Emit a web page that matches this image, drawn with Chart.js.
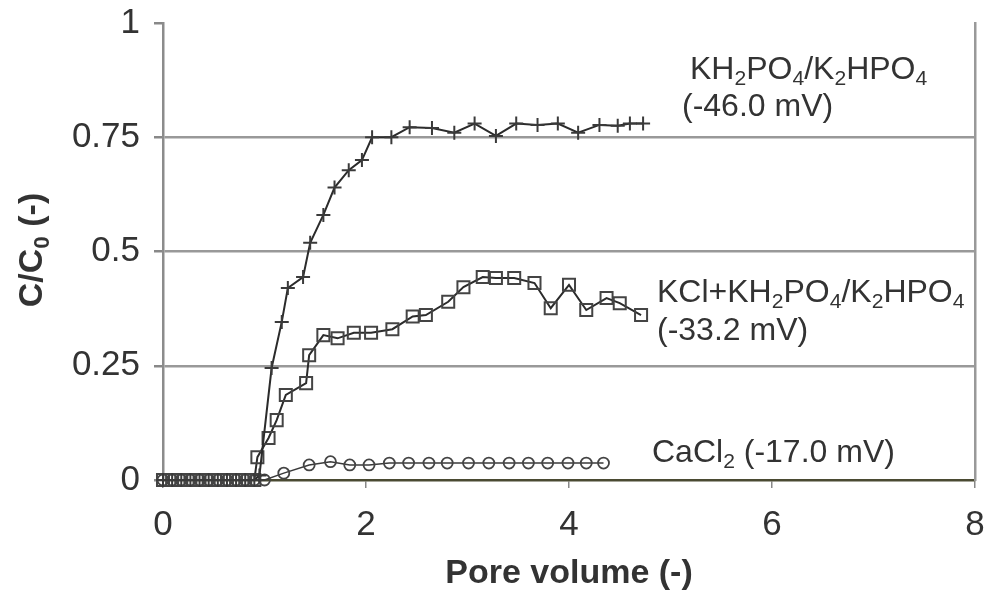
<!DOCTYPE html>
<html>
<head>
<meta charset="utf-8">
<script src="https://cdn.jsdelivr.net/npm/chart.js@4.4.1/dist/chart.umd.min.js"></script>
<style>
html,body{margin:0;padding:0;background:#fff}
#wrap{width:987px;height:596px}
</style>
</head>
<body>
<div id="wrap"><canvas id="grafica"></canvas></div>
<script>

// pore volume / C/C0
const fosfatoX = [0,0.09,0.18,0.27,0.36,0.45,0.54,0.63,0.72,0.81,0.9,0.95,1.07,1.17,1.23,1.38,1.45,1.58,1.69,1.83,1.96,2.06,2.25,2.43,2.65,2.87,3.07,3.28,3.48,3.69,3.89,4.09,4.30,4.48,4.60,4.73]
const fosfatoY = [0,0,0,0,0,0,0,0,0,0,0,0.01,0.245,0.346,0.42,0.444,0.519,0.58,0.64,0.678,0.70,0.75,0.75,0.772,0.77,0.76,0.78,0.753,0.78,0.777,0.78,0.76,0.777,0.775,0.78,0.78]

const kclX = [0,0.09,0.18,0.27,0.36,0.45,0.54,0.63,0.72,0.81,0.9,0.93,1.04,1.12,1.21,1.41,1.44,1.58,1.72,1.88,2.05,2.26,2.46,2.59,2.81,2.96,3.15,3.28,3.46,3.66,3.82,4.0,4.17,4.37,4.50,4.71]
const kclY = [0,0,0,0,0,0,0,0,0,0,0,0.05,0.092,0.131,0.186,0.212,0.273,0.317,0.31,0.322,0.322,0.33,0.358,0.361,0.39,0.422,0.444,0.442,0.442,0.431,0.376,0.427,0.372,0.398,0.387,0.361]

const cacl2X = [0,0.09,0.18,0.27,0.36,0.45,0.54,0.63,0.72,0.81,0.9,1.0,1.19,1.44,1.65,1.84,2.03,2.23,2.42,2.62,2.80,3.01,3.21,3.41,3.60,3.79,3.99,4.17,4.34]
const cacl2Y = [0,0,0,0,0,0,0,0,0,0,0,0,0.015,0.033,0.04,0.033,0.033,0.037,0.037,0.037,0.037,0.037,0.037,0.037,0.037,0.037,0.037,0.037,0.037]

const ticksX = [0,2,4,6,8]
const ticksY = [0,0.25,0.5,0.75,1]

const fuente = "'Liberation Sans', Arial, sans-serif"
const gris = "#333"

function puntos(xs,ys){
return xs.map((x,i)=>({x:x,y:ys[i]}))
}

// text with subscripts: parts = [[text, sub?], ...]
function textoRico(ctx,parts,x,y,size,bold,medir){
let px = x
parts.forEach(p=>{
const s = p[1] ? size*0.66 : size
ctx.font = (bold?"bold ":"") + s + "px " + fuente
if(!medir) ctx.fillText(p[0], px, p[1] ? y + size*0.28 : y)
px += ctx.measureText(p[0]).width
})
return px - x
}

const etiquetas = {
id:"etiquetas",
afterDraw(chart){
const ctx = chart.ctx
ctx.save()
ctx.fillStyle = gris
ctx.textBaseline = "middle"
ctx.textAlign = "left"

textoRico(ctx,[["KH"],["2",1],["PO"],["4",1],["/K"],["2",1],["HPO"],["4",1]],690,70,32)
textoRico(ctx,[["(-46.0 mV)"]],682,107,32)
textoRico(ctx,[["KCl+KH"],["2",1],["PO"],["4",1],["/K"],["2",1],["HPO"],["4",1]],657,293,32)
textoRico(ctx,[["(-33.2 mV)"]],657,331,32)
textoRico(ctx,[["CaCl"],["2",1],[" (-17.0 mV)"]],652,453,32)

// y title, rotated
ctx.translate(33,250)
ctx.rotate(-Math.PI/2)
const parts = [["C/C"],["0",1],[" (-)"]]
const w = textoRico(ctx,parts,0,0,34,true,true)
textoRico(ctx,parts,-w/2,0,34,true)
ctx.restore()
}
}

new Chart(document.getElementById("grafica"),{

type:"scatter",

data:{
datasets:[
{
label:"KH2PO4/K2HPO4",
data:puntos(fosfatoX,fosfatoY),
showLine:true,
clip:false,
borderColor:"#2b2b2b",
borderWidth:2,
pointStyle:"cross",
pointRadius:7,
pointBorderColor:"#3a3a3a",
pointBorderWidth:2,
pointBackgroundColor:"transparent"
},
{
label:"KCl+KH2PO4/K2HPO4",
data:puntos(kclX,kclY),
showLine:true,
clip:false,
borderColor:"#2b2b2b",
borderWidth:2,
pointStyle:"rect",
pointRadius:8.5,
pointBorderColor:"#444",
pointBorderWidth:2,
pointBackgroundColor:"transparent"
},
{
label:"CaCl2",
data:puntos(cacl2X,cacl2Y),
showLine:true,
clip:false,
borderColor:"#3a3a3a",
borderWidth:1.5,
pointStyle:"circle",
pointRadius:5.5,
pointBorderColor:"#444",
pointBorderWidth:1.8,
pointBackgroundColor:"transparent"
}
]
},

options:{
responsive:true,
maintainAspectRatio:false,
animation:false,
layout:{padding:{top:23,right:12,left:0,bottom:0}},
plugins:{legend:{display:false},tooltip:{enabled:false}},
scales:{
x:{
type:"linear",
min:0,
max:8,
afterFit(s){ s.height = 116; s.paddingLeft = 0; s.paddingRight = 0 },
afterBuildTicks(s){ s.ticks = ticksX.map(v=>({value:v})) },
border:{color:"#4a4a32",width:2.5},
grid:{drawOnChartArea:false,drawTicks:true,tickLength:8,tickColor:"#888",lineWidth:1.5},
ticks:{color:gris,padding:16,font:{family:fuente,size:35},callback:v=>String(v)},
title:{display:true,text:"Pore volume (-)",color:gris,padding:{top:0,bottom:2},font:{family:fuente,size:34,weight:"bold"}}
},
y:{
type:"linear",
min:0,
max:1,
afterFit(s){ s.width = 163; s.paddingTop = 0; s.paddingBottom = 0 },
afterBuildTicks(s){ s.ticks = ticksY.map(v=>({value:v})) },
border:{color:"#8c8c8c",width:2.5},
grid:{
color:c=> (c.tick && (c.tick.value===0 || c.tick.value===1)) ? "rgba(0,0,0,0)" : "#999",
lineWidth:2.5,
tickLength:9,
tickColor:"#888"
},
ticks:{color:gris,padding:14,font:{family:fuente,size:35},callback:v=>String(v)}
},
y2:{
type:"linear",
position:"right",
min:0,
max:1,
afterFit(s){ s.width = 0; s.paddingTop = 0; s.paddingBottom = 0 },
border:{color:"#999",width:2.5},
grid:{display:false},
ticks:{display:false}
}
}
},

plugins:[etiquetas]

})

</script>
</body>
</html>
